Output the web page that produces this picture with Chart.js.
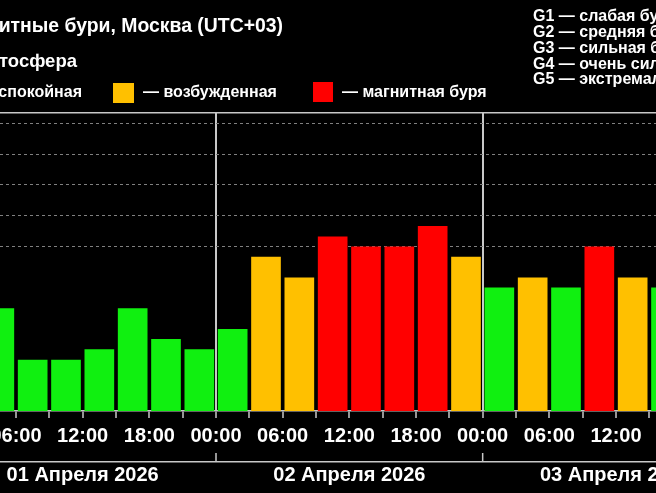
<!DOCTYPE html>
<html>
<head>
<meta charset="utf-8">
<script src="https://cdn.jsdelivr.net/npm/chart.js@4/dist/chart.umd.min.js"></script>
<style>
  html, body { margin: 0; padding: 0; background: #000; }
  #wrap { width: 656px; height: 493px; position: relative; }
</style>
</head>
<body>
<div id="wrap"><canvas id="c" width="656" height="493"></canvas></div>
<script>
// ---- data ----
// start hour of each 3-hour interval, counted from 01 Apr 2026 00:00 (UTC+03)
const slotStartHour = [3, 6, 9, 12, 15, 18, 21,
                       24, 27, 30, 33, 36, 39, 42, 45,
                       48, 51, 54, 57, 60, 63];
const kpValues = [3.00, 1.33, 1.33, 1.67, 3.00, 2.00, 1.67,
                  2.33, 4.67, 4.00, 5.33, 5.00, 5.00, 5.67, 4.67,
                  3.67, 4.00, 3.67, 5.00, 4.00, 3.67];
const timeTickLabels = ['00:00', '06:00', '12:00', '18:00'];
const dayLabels = ['01 Апреля 2026', '02 Апреля 2026', '03 Апреля 2026'];
const kpGridLevels = [5, 6, 7, 8, 9];
const stateLabels = ['— спокойная', '— возбужденная', '— магнитная буря'];
const stormLabels = ['G1 — слабая буря', 'G2 — средняя буря', 'G3 — сильная буря',
                     'G4 — очень сильная буря', 'G5 — экстремальная буря'];
const titleText = 'Магнитные бури, Москва (UTC+03)';
const subTitleText = 'Магнитосфера';

// ---- styles ----
const GREEN = '#10F010', ORANGE = '#FFC000', RED = '#FF0000';
const AXIS = '#C8C8C8';
const FONT = '"Liberation Sans", Arial, sans-serif';
function kpColor(v) { return v >= 5 ? RED : (v >= 4 ? ORANGE : GREEN); }

// visible window of the (cropped) chart, in hours
const X_MIN = 4.56, X_MAX = 63.6;

const headerPlugin = {
  id: 'header',
  beforeDraw(chart) {
    const ctx = chart.ctx;
    ctx.save();
    ctx.fillStyle = '#000';
    ctx.fillRect(0, 0, chart.width, chart.height);
    ctx.restore();
  },
  afterDraw(chart) {
    const ctx = chart.ctx;
    ctx.save();
    ctx.fillStyle = '#fff';
    ctx.textBaseline = 'alphabetic';
    // title and subtitle (cropped at the left edge)
    ctx.textAlign = 'right';
    ctx.font = 'bold 19.4px ' + FONT;
    ctx.fillText(titleText, 283, 32);
    ctx.font = 'bold 18.5px ' + FONT;
    ctx.fillText(subTitleText, 77, 67);
    // state legend
    ctx.font = 'bold 16px ' + FONT;
    const w0 = ctx.measureText(stateLabels[0]).width;
    ctx.fillStyle = GREEN;
    ctx.fillRect(82 - w0 - 30, 83, 20, 20);
    ctx.fillStyle = '#fff';
    ctx.fillText(stateLabels[0], 82, 97);
    ctx.textAlign = 'left';
    ctx.fillStyle = ORANGE;
    ctx.fillRect(113, 83, 21, 20);
    ctx.fillStyle = '#fff';
    ctx.fillText(stateLabels[1], 143, 97);
    ctx.fillStyle = RED;
    ctx.fillRect(313, 82, 20, 20);
    ctx.fillStyle = '#fff';
    ctx.fillText(stateLabels[2], 342, 97);
    // storm levels legend
    ctx.font = 'bold 16px ' + FONT;
    const base = [21, 37, 52.7, 68.5, 84.3];
    stormLabels.forEach((t, i) => ctx.fillText(t, 533, base[i]));
    // day-boundary marks on the date axis
    const x2 = chart.scales.x2;
    ctx.strokeStyle = AXIS;
    ctx.lineWidth = 1.5;
    for (let h = 24; h < X_MAX; h += 24) {
      const px = x2.getPixelForValue(h);
      ctx.beginPath();
      ctx.moveTo(px, x2.top - 9);
      ctx.lineTo(px, x2.top);
      ctx.stroke();
    }
    ctx.restore();
  }
};

new Chart(document.getElementById('c'), {
  type: 'bar',
  data: {
    datasets: [{
      data: slotStartHour.map((h, i) => ({ x: h + 1.5, y: kpValues[i] })),
      backgroundColor: kpValues.map(kpColor),
      borderWidth: 0,
      base: -1 / 3,
      barPercentage: 0.89,
      categoryPercentage: 1.0,
      xAxisID: 'x',
      yAxisID: 'y'
    }]
  },
  options: {
    responsive: false,
    animation: false,
    events: [],
    layout: { padding: { top: 113, left: 0, right: 0, bottom: 0 } },
    plugins: { legend: { display: false }, tooltip: { enabled: false }, title: { display: false } },
    scales: {
      x: {
        type: 'linear',
        position: 'bottom',
        min: X_MIN,
        max: X_MAX,
        offset: false,
        afterFit(s) { s.height = 51; s.paddingLeft = 0; s.paddingRight = 0; },
        border: { display: true, color: AXIS, width: 1.5 },
        grid: {
          offset: false,
          drawOnChartArea: true,
          drawTicks: true,
          tickLength: 7,
          tickColor: AXIS,
          tickWidth: 1.5,
          color: (c) => (c.tick && c.tick.value % 24 === 0) ? AXIS : 'rgba(0,0,0,0)',
          lineWidth: (c) => (c.tick && c.tick.value % 24 === 0) ? 2 : 0
        },
        ticks: {
          stepSize: 3,
          includeBounds: false,
          autoSkip: false,
          maxRotation: 0,
          minRotation: 0,
          padding: 6,
          color: '#fff',
          font: { family: FONT, size: 20, weight: 'bold' },
          callback: (v) => (v % 6 === 0) ? timeTickLabels[(v % 24) / 6] : ''
        }
      },
      x2: {
        type: 'linear',
        position: 'bottom',
        min: X_MIN,
        max: X_MAX,
        offset: false,
        afterBuildTicks(s) { s.ticks = dayLabels.map((_, i) => ({ value: 12 + 24 * i })); },
        afterFit(s) { s.height = 31; s.paddingLeft = 0; s.paddingRight = 0; },
        border: { display: true, color: AXIS, width: 1.5 },
        grid: { offset: false, drawOnChartArea: false, drawTicks: false },
        ticks: {
          autoSkip: false,
          maxRotation: 0,
          minRotation: 0,
          padding: 1,
          color: '#fff',
          font: { family: FONT, size: 20, weight: 'bold' },
          callback: (v) => dayLabels[Math.round((v - 12) / 24)]
        }
      },
      xTop: {
        type: 'linear',
        position: 'top',
        afterFit(s) { s.height = 0; s.paddingLeft = 0; s.paddingRight = 0; },
        border: { display: true, color: AXIS, width: 1.5 },
        grid: { offset: false, drawOnChartArea: false, drawTicks: false },
        ticks: { display: false }
      },
      y: {
        type: 'linear',
        position: 'left',
        min: -1 / 3,
        max: 9 + 1 / 3,
        afterBuildTicks(s) { s.ticks = kpGridLevels.map(v => ({ value: v })); },
        afterFit(s) { s.width = 0; },
        border: { display: false, dash: [3, 3] },
        grid: { color: '#808080', lineWidth: 1, drawTicks: false },
        ticks: { display: false }
      }
    }
  },
  plugins: [headerPlugin]
});
</script>
</body>
</html>
